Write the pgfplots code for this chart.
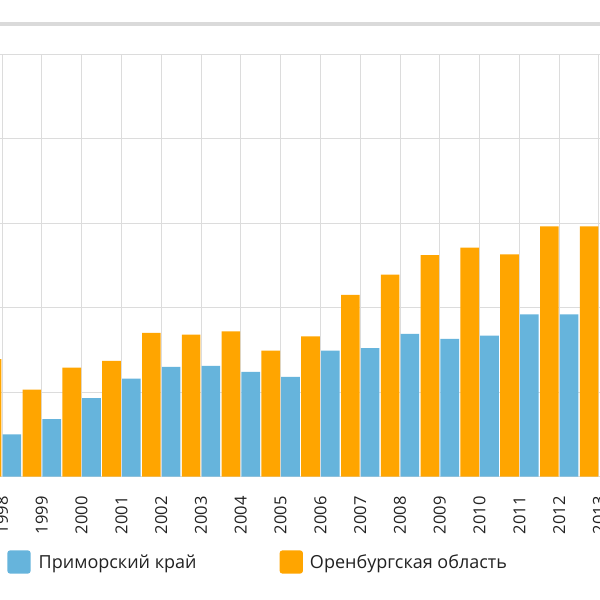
\documentclass[border=0pt]{standalone}
\usepackage{fontspec}
\setmainfont{Open Sans}
\usepackage{pgfplots}
\pgfplotsset{compat=1.18}
\usepackage{pgfplotstable}

\definecolor{barblue}{HTML}{66B4DC}
\definecolor{barorange}{HTML}{FFA500}
\definecolor{gridgray}{HTML}{DCDCDC}
\definecolor{bandgray}{HTML}{DADADA}
\definecolor{labeltext}{HTML}{222222}

% group centre (year + 0.5) and value
\pgfplotstableread{
x       y
1998.5  5.0
1999.5  6.8
2000.5  9.3
2001.5  11.6
2002.5  13.0
2003.5  13.1
2004.5  12.4
2005.5  11.8
2006.5  14.9
2007.5  15.2
2008.5  16.9
2009.5  16.3
2010.5  16.7
2011.5  19.2
2012.5  19.2
}\primorsky

\pgfplotstableread{
x       y
1997.5  13.9
1998.5  10.3
1999.5  12.9
2000.5  13.7
2001.5  17.0
2002.5  16.8
2003.5  17.2
2004.5  14.9
2005.5  16.6
2006.5  21.5
2007.5  23.9
2008.5  26.2
2009.5  27.1
2010.5  26.3
2011.5  29.6
2012.5  29.6
}\orenburg

\begin{document}
\begin{tikzpicture}
\useasboundingbox (0pt,0pt) rectangle (600pt,600pt);
\clip (0pt,0pt) rectangle (600pt,600pt);
\fill[white] (0pt,0pt) rectangle (600pt,600pt);
\fill[bandgray] (0pt,574.3pt) rectangle (600pt,577.7pt);
\begin{axis}[
  at={(0pt,123.3pt)}, anchor=south west,
  scale only axis, width=600pt, height=422.7pt,
  xmin=1997.9497, xmax=2013.0251,
  ymin=0, ymax=50,
  ybar, bar width=18.6pt,
  axis line style={draw=none},
  tick style={draw=none},
  major tick length=0pt,
  xtick={1998,...,2013},
  xticklabels={1998,1999,2000,2001,2002,2003,2004,2005,2006,2007,2008,2009,2010,2011,2012,2013},
  ytick={0,10,...,50},
  yticklabels={},
  grid=major,
  major grid style={color=gridgray, line width=0.9pt},
  xticklabel shift=19.5pt,
  xticklabel style={font=\fontsize{16.5}{19}\selectfont, text=labeltext, rotate=90, anchor=east, inner sep=0pt},
  legend columns=2,
  legend cell align=left,
  legend image code/.code={\fill[#1, rounded corners=3pt] (0pt,-11.7pt) rectangle (23.4pt,11.7pt);},
  legend style={
    at={(0.01217,-0.2018)}, anchor=west,
    draw=none, fill=none, inner sep=0pt, outer sep=0pt,
    font=\fontsize{18}{21}\selectfont, text=labeltext,
    nodes={inner sep=0pt},
    /tikz/column 1/.style={column sep=8pt},
    /tikz/column 2/.style={column sep=83pt},
    /tikz/column 3/.style={column sep=7pt},
  },
]
\addplot[fill=barblue, draw=none, bar shift=-10pt] table[x=x, y=y] {\primorsky};
\addlegendentry{Приморский край}
\addplot[fill=barorange, draw=none, bar shift=10pt] table[x=x, y=y] {\orenburg};
\addlegendentry{Оренбургская область}
\end{axis}
\end{tikzpicture}
\end{document}
